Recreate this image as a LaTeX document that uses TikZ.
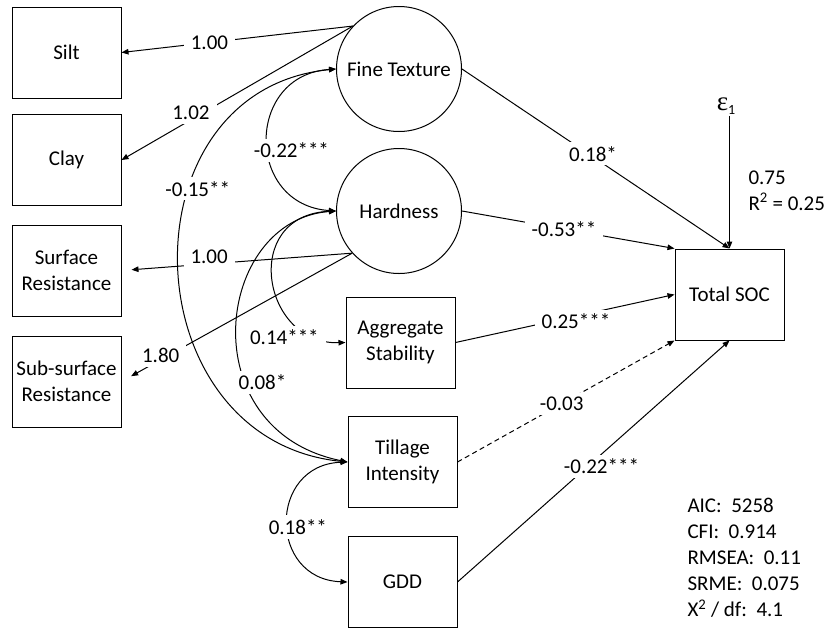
\documentclass[tikz,border=0pt]{standalone}
\usepackage{fontspec}
\setmainfont{Carlito}
\newfontfamily\grkserif{Liberation Serif}
\usetikzlibrary{arrows.meta}
\tikzset{
  obs/.style={draw,rectangle,minimum width=109pt,minimum height=91pt,inner sep=0pt,align=center},
  lat/.style={draw,circle,minimum size=125pt,inner sep=0pt},
  lbl/.style={fill=white,inner xsep=7pt,inner ysep=4pt},
}

\begin{document}
\begin{tikzpicture}[x=1pt,y=-1pt,>={Triangle[length=7pt,width=5.5pt]},line width=1pt,
  font=\fontsize{21}{26}\selectfont]
  \useasboundingbox (0,0) rectangle (828,630);
  \node[obs] (silt) at (66.5,52.5) {Silt};
  \node[obs] (clay) at (66.5,160) {Clay};
  \node[obs] (surf) at (66.5,270.5) {Surface\\Resistance};
  \node[obs] (sub) at (66.5,381.5) {Sub-surface\\Resistance};
  \node[lat] (ft) at (399,69) {Fine Texture};
  \node[lat] (hard) at (399,211) {Hardness};
  \node[obs] (agg) at (400.5,342.5) {Aggregate\\Stability};
  \node[obs] (till) at (402.5,462) {Tillage\\Intensity};
  \node[obs] (gdd) at (402.5,582) {GDD};
  \node[obs] (soc) at (729.5,294.5) {Total SOC};
  \node[inner sep=1pt] (eps) at (726,106)
    {{\grkserif\fontsize{27}{27}\selectfont ε}\raisebox{-4pt}{\fontsize{14}{14}\selectfont 1}};
  \node[anchor=north west,align=left,inner sep=0pt] (r2) at (748,170) {0.75\\R\textsuperscript{2} = 0.25};
  \node[anchor=north west,align=left,inner sep=0pt] (fit) at (687,498)
    {AIC:\ \ 5258\\CFI:\ \ 0.914\\RMSEA:\ \ 0.11\\SRME:\ \ 0.075\\X\textsuperscript{2} / df:\ \ 4.1};

  \draw[<->] (ft.west) .. controls (245,75) and (245,205) .. node[lbl,pos=.55,xshift=23pt] {-0.22***} (hard.west);
  \draw[<->] (ft.west) .. controls (120,90) and (130,440) .. node[lbl,pos=.36,xshift=8pt] {-0.15**} (till.west);
  \draw[<->] (hard.west) .. controls (240,215) and (262,345) .. node[lbl,pos=.84,xshift=-26pt,yshift=-3pt] {0.14***} (agg.west);
  \draw[<->] (hard.west) .. controls (215,220) and (190,430) .. node[lbl,pos=.65,xshift=17pt,yshift=-3pt] {0.08*} (till.west);
  \draw[<->] (till.west) .. controls (268,465) and (268,579) .. node[lbl,pos=.5,xshift=10pt,yshift=-5pt] {0.18**} (gdd.west);

  \draw[->] (ft.137) -- node[lbl,pos=.62] {1.00} (silt.east);
  \draw[->] (ft.137) -- node[lbl,pos=.7,yshift=7pt] {1.02} (clay.east);
  \draw[->,shorten >=10pt] (hard.222) -- node[lbl,pos=.62,yshift=7pt] {1.00} (surf.east);
  \draw[->,shorten >=11pt] (hard.222) -- node[lbl,pos=.83,yshift=4pt] {1.80} (sub.east);

  \draw[->] (ft.east) -- node[lbl,pos=.49,yshift=3pt] {0.18*} (soc.north);
  \draw[->] (hard.east) -- node[lbl,pos=.48] {-0.53**} (soc.north west);
  \draw[->] (agg.east) -- node[lbl,pos=.55,yshift=-5pt] {0.25***} (soc.west);
  \draw[->,dash pattern=on 5pt off 3.5pt] (till.east) -- node[lbl,pos=.48] {-0.03} (soc.south west);
  \draw[->] (gdd.east) -- node[lbl,pos=.5,xshift=8pt,yshift=-5pt] {-0.22***} (soc.south);
  \draw[->] (eps.south -| soc.north) -- (soc.north);
\end{tikzpicture}
\end{document}
